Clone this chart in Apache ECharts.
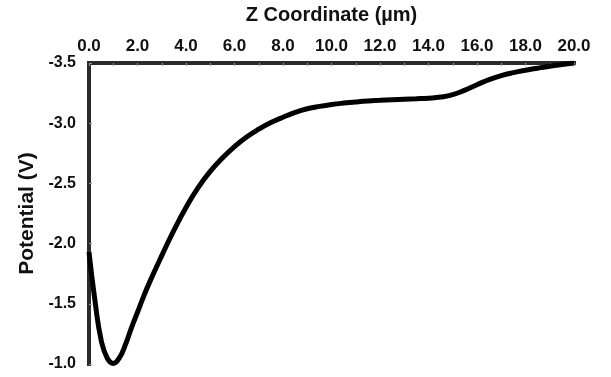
<!DOCTYPE html>
<html>
<head>
<meta charset="utf-8">
<script src="https://cdn.jsdelivr.net/npm/echarts@6/dist/echarts.min.js"></script>
<style>
  html, body { margin: 0; padding: 0; background: #fff; }
  #chart { width: 611px; height: 377px; }
</style>
</head>
<body>
<div id="chart"></div>
<script>
// Potential along the Z coordinate
const zCoord = [0.0, 0.25, 0.5, 0.75, 1.0, 1.25, 1.5, 1.75, 2.0, 2.25, 2.5, 3.0, 3.5, 4.0, 4.5, 5.0, 5.5, 6.0, 6.5, 7.0, 7.5, 8.0, 8.5, 9.0, 9.5, 10.0, 10.5, 11.0, 11.5, 12.0, 12.5, 13.0, 13.5, 14.0, 14.5, 15.0, 15.5, 16.0, 16.5, 17.0, 17.5, 18.0, 18.5, 19.0, 19.5, 20.0];
const potential = [-1.93, -1.52, -1.20, -1.05, -1.005, -1.05, -1.16, -1.30, -1.43, -1.56, -1.68, -1.90, -2.11, -2.30, -2.465, -2.60, -2.71, -2.805, -2.885, -2.95, -3.005, -3.05, -3.09, -3.12, -3.14, -3.155, -3.167, -3.177, -3.185, -3.19, -3.195, -3.199, -3.203, -3.208, -3.217, -3.237, -3.275, -3.32, -3.362, -3.395, -3.42, -3.44, -3.457, -3.473, -3.487, -3.50];
const xTicks = { min: 0, max: 20, step: 2 };
const yTicks = { min: -3.5, max: -1.0, step: 0.5 };

const points = zCoord.map((z, i) => [z, potential[i]]);

const chart = echarts.init(document.getElementById('chart'));
const family = 'Liberation Sans, Arial, sans-serif';
const axisColor = '#2b2b2b';

chart.setOption({
  animation: false,
  backgroundColor: '#fff',
  grid: { left: 89, right: 37, top: 62, bottom: 13, containLabel: false },
  xAxis: {
    type: 'value',
    position: 'top',
    min: xTicks.min, max: xTicks.max, interval: xTicks.step,
    name: 'Z Coordinate (µm)',
    nameLocation: 'middle',
    nameGap: 38,
    nameTextStyle: { fontFamily: family, fontWeight: 'bold', fontSize: 20, color: '#111' },
    axisLine: { show: true, lineStyle: { color: axisColor, width: 4, cap: 'square' } },
    axisTick: { show: true, inside: true, length: 3, lineStyle: { color: '#999', width: 1 } },
    minorTick: { show: true, splitNumber: 2, length: 3, lineStyle: { color: '#999', width: 1 } },
    axisLabel: { margin: 8, formatter: v => v.toFixed(1), fontFamily: family, fontWeight: 'bold', fontSize: 17, color: '#111' },
    splitLine: { show: false }
  },
  yAxis: {
    type: 'value',
    inverse: true,
    min: yTicks.min, max: yTicks.max, interval: yTicks.step,
    name: 'Potential (V)',
    nameLocation: 'middle',
    nameGap: 45,
    nameRotate: 90,
    nameTextStyle: { fontFamily: family, fontWeight: 'bold', fontSize: 21, color: '#111' },
    axisLine: { show: true, lineStyle: { color: axisColor, width: 4, cap: 'square' } },
    axisTick: { show: true, inside: true, length: 3, lineStyle: { color: '#999', width: 1 } },
    axisLabel: { margin: 13, formatter: v => v.toFixed(1), fontFamily: family, fontWeight: 'bold', fontSize: 16, color: '#111' },
    splitLine: { show: false }
  },
  series: [{
    type: 'line',
    data: points,
    smooth: 0.5,
    showSymbol: false,
    lineStyle: { color: '#000', width: 5 },
    z: 1
  }]
});
</script>
</body>
</html>
